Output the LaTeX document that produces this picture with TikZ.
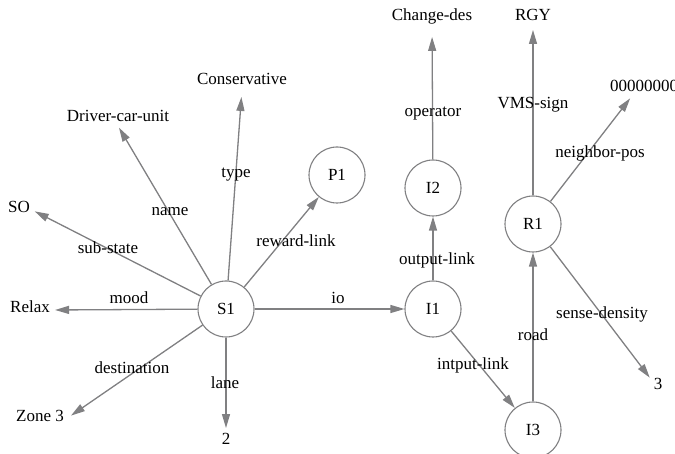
\documentclass[tikz,border=0pt]{standalone}
\usepackage{fontspec}
\setmainfont{Liberation Serif}
\usetikzlibrary{arrows.meta}
\definecolor{edgegray}{RGB}{128,128,130}
\tikzset{
  every node/.style={font=\fontsize{17}{20}\selectfont},
  state/.style={circle, draw=edgegray, line width=1.1pt, fill=white, minimum size=56pt, inner sep=0pt},
  val/.style={inner sep=2pt, text height=0.7em, text depth=0.25em},
  lbl/.style={inner sep=1pt},
  link/.style={draw=edgegray, line width=1.3pt, -{Triangle[length=14pt,width=8pt]}, fill=edgegray}
}
\begin{document}
\begin{tikzpicture}[x=1pt,y=-1pt]
\useasboundingbox (0,0) rectangle (675,454);

% frame states
\node[state] (S1) at (226,309) {S1};
\node[state] (P1) at (337,175) {P1};
\node[state] (I1) at (433,309) {I1};
\node[state] (I2) at (433,188) {I2};
\node[state] (R1) at (533,224) {R1};
\node[state] (I3) at (533,430) {I3};

% slot values
\node[val] (cd)   at (432,18)  {Change-des};
\node[val] (rgy)  at (533,18)  {RGY};
\node[val, anchor=west] (zero) at (608,89) {00000000};
\node[val] (cons) at (242,82)  {Conservative};
\node[val] (dcu)  at (118,119) {Driver-car-unit};
\node[val] (so)   at (19,210)  {SO};
\node[val] (rel)  at (30,310)  {Relax};
\node[val] (zone) at (40,419)  {Zone 3};
\node[val] (two)  at (226,442) {2};
\node[val] (three) at (658,387) {3};

% slots of S1
\draw[link, shorten >=2pt] (S1) -- (dcu.south);
\draw[link, shorten >=8pt] (S1) -- (cons.south);
\draw[link] (S1) -- (P1);
\draw[link, shorten >=3pt] (S1) -- (so.east);
\draw[link, shorten >=3pt] (S1) -- (rel.east);
\draw[link, shorten >=6pt] (S1) -- (zone.east);
\draw[link, shorten >=7pt] (S1) -- (two.north);
\draw[link] (S1) -- (I1);

% interface and road frames
\draw[link] (I1) -- (I2);
\draw[link, shorten >=12pt] (I2) -- (cd.south);
\draw[link] (I1) -- (I3);
\draw[link] (I3) -- (R1);
\draw[link, shorten >=5pt] (R1) -- (rgy.south);
\draw[link, shorten >=3pt] (R1) -- ([xshift=24pt]zero.south west);
\draw[link, shorten >=3pt] (R1) -- (three.north west);

% slot names
\node[lbl] (l-name)  at (170,212) {name};
\node[lbl] (l-type)  at (236,175) {type};
\node[lbl] (l-rew)   at (296,241) {reward-link};
\node[lbl] (l-sub)   at (108,248) {sub-state};
\node[lbl] (l-mood)  at (129,298) {mood};
\node[lbl] (l-dest)  at (132,368) {destination};
\node[lbl] (l-lane)  at (225,383) {lane};
\node[lbl] (l-io)    at (338,298) {io};
\node[lbl] (l-out)   at (437,260) {output-link};
\node[lbl] (l-in)    at (473,365) {intput-link};
\node[lbl] (l-road)  at (533,335) {road};
\node[lbl] (l-sense) at (602,314) {sense-density};
\node[lbl] (l-op)    at (433,114) {operator};
\node[lbl] (l-vms)   at (533,105) {VMS-sign};
\node[lbl] (l-nb)    at (600,153) {neighbor-pos};
\end{tikzpicture}
\end{document}
